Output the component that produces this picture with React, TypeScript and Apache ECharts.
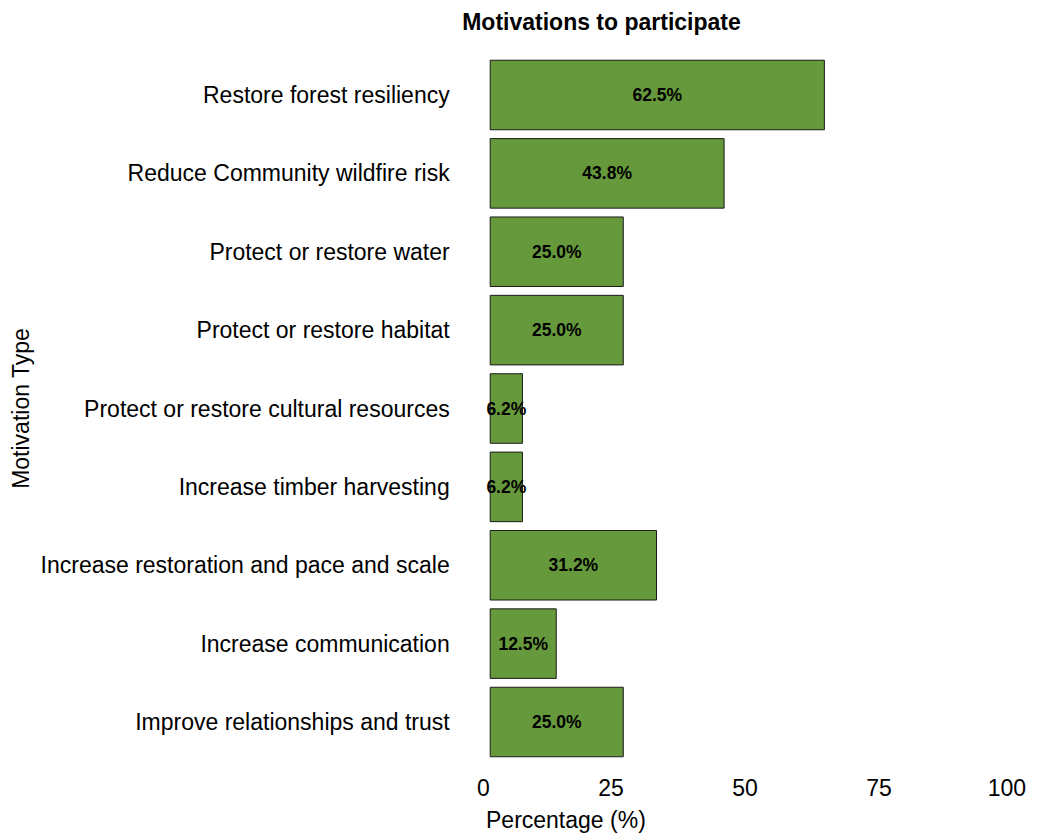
import React, { useEffect, useRef } from "react";
import * as echarts from "echarts";

const categories = [
  "Restore forest resiliency",
  "Reduce Community wildfire risk",
  "Protect or restore water",
  "Protect or restore habitat",
  "Protect or restore cultural resources",
  "Increase timber harvesting",
  "Increase restoration and pace and scale",
  "Increase communication",
  "Improve relationships and trust",
];
const percentages = [62.5, 43.8, 25.0, 25.0, 6.2, 6.2, 31.2, 12.5, 25.0];
const xTicks = { min: 0, max: 100, interval: 25 };

const FONT = "'Liberation Sans', Arial, Helvetica, sans-serif";

export default function App() {
  const ref = useRef<HTMLDivElement>(null);
  useEffect(() => {
    if (!ref.current) return;
    const chart = echarts.init(ref.current, null, { renderer: "svg" });
    chart.setOption({
      animation: false,
      backgroundColor: "#ffffff",
      textStyle: { fontFamily: FONT },
      grid: { left: 489.7, right: 17, top: 55.8, bottom: 72.8, containLabel: false },
      xAxis: {
        type: "value",
        min: xTicks.min,
        max: xTicks.max,
        interval: xTicks.interval,
        axisLine: { show: false },
        axisTick: { show: false },
        splitLine: { show: false },
        axisLabel: {
          align: "right",
          fontSize: 23,
          color: "#000000",
          margin: 15,
          fontFamily: FONT,
        },
      },
      yAxis: {
        type: "category",
        inverse: true,
        data: categories,
        axisLine: { show: false },
        axisTick: { show: false },
        splitLine: { show: false },
        axisLabel: {
          fontSize: 23,
          color: "#000000",
          margin: 40,
          fontFamily: FONT,
          padding: [3, 0, 0, 0],
        },
      },
      series: [
        {
          type: "bar",
          data: percentages,
          barCategoryGap: "10%",
          itemStyle: { color: "#66993b", borderColor: "#1a1a1a", borderWidth: 1 },
          label: {
            show: true,
            position: "inside",
            formatter: (p: any) => Number(p.value).toFixed(1) + "%",
            fontSize: 17.5,
            fontWeight: "bold",
            color: "#000000",
            fontFamily: FONT,
          },
        },
      ],
      graphic: [
        {
          type: "text",
          x: 601.5,
          y: 22,
          style: {
            text: "Motivations to participate",
            fontSize: 23,
            fontWeight: "bold",
            fontFamily: FONT,
            fill: "#000000",
            align: "center",
            verticalAlign: "middle",
          },
        },
        {
          type: "text",
          x: 486,
          y: 820,
          style: {
            text: "Percentage (%)",
            fontSize: 23,
            fontFamily: FONT,
            fill: "#000000",
            align: "left",
            verticalAlign: "middle",
          },
        },
        {
          type: "text",
          x: 21,
          y: 408.5,
          rotation: Math.PI / 2,
          style: {
            text: "Motivation Type",
            fontSize: 23,
            fontFamily: FONT,
            fill: "#000000",
            align: "center",
            verticalAlign: "middle",
          },
        },
      ],
    });
    return () => chart.dispose();
  }, []);
  return (
    <div
      ref={ref}
      style={{ position: "fixed", left: 0, top: 0, width: 1043, height: 834, background: "#fff" }}
    />
  );
}
